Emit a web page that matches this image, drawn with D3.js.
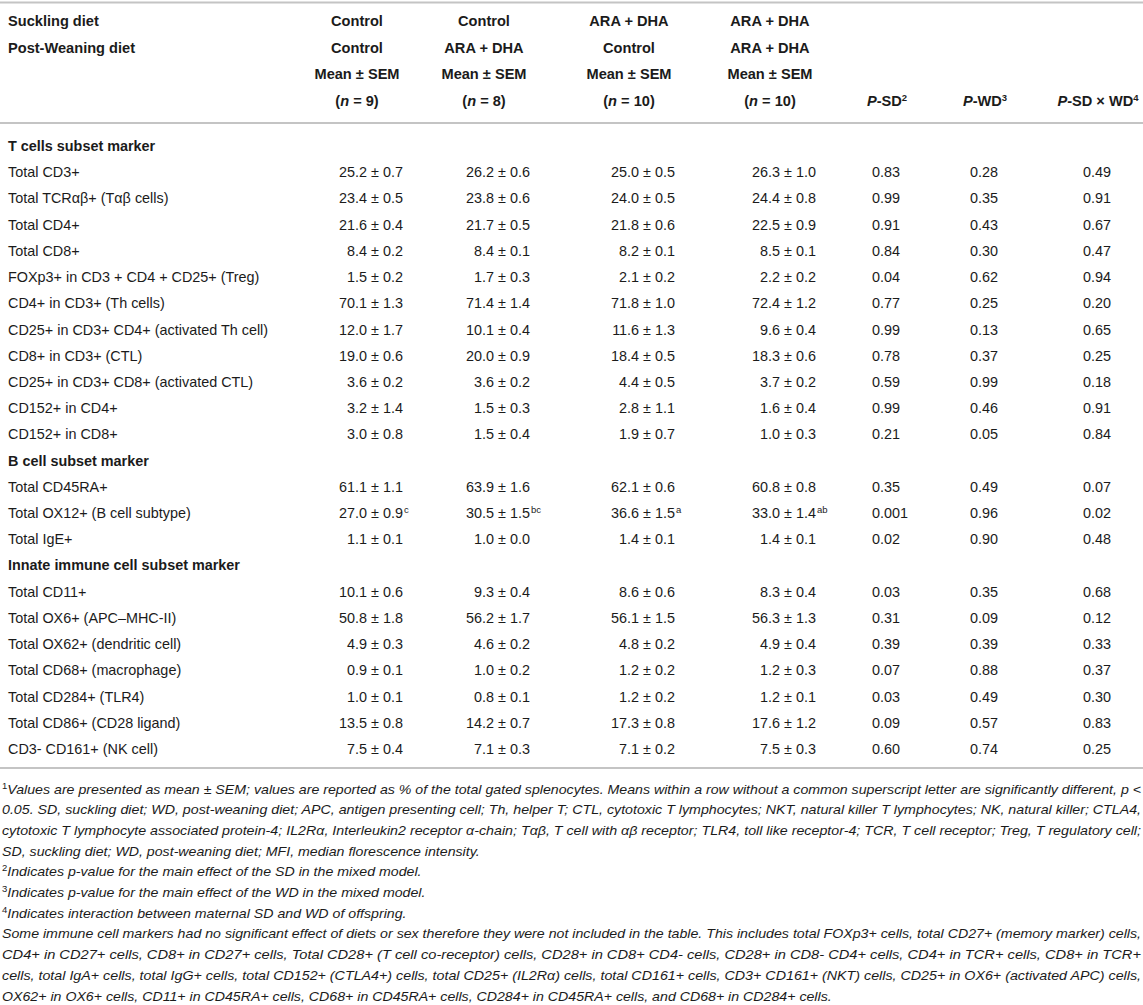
<!DOCTYPE html>
<html>
<head>
<meta charset="utf-8" />
<title>Splenocyte phenotypes by diet</title>
<script src="https://d3js.org/d3.v7.min.js"></script>
<style>
  body { margin: 0; background: #fff; }
  svg text { font-family: "Liberation Sans", Arial, sans-serif; fill: #1b1b1b; }
</style>
</head>
<body>
<svg id="canvas" width="1143" height="1005"></svg>
<script>
// ---- data ----
var sucklingDiet = ["Control", "Control", "ARA + DHA", "ARA + DHA"];
var weaningDiet = ["Control", "ARA + DHA", "Control", "ARA + DHA"];
var groupN = [9, 8, 10, 10];

var sections = ["T cells subset marker", "B cell subset marker", "Innate immune cell subset marker"];
var markers = [
  "Total CD3+", "Total TCRαβ+ (Tαβ cells)", "Total CD4+", "Total CD8+",
  "FOXp3+ in CD3 + CD4 + CD25+ (Treg)", "CD4+ in CD3+ (Th cells)",
  "CD25+ in CD3+ CD4+ (activated Th cell)", "CD8+ in CD3+ (CTL)",
  "CD25+ in CD3+ CD8+ (activated CTL)", "CD152+ in CD4+", "CD152+ in CD8+",
  "Total CD45RA+", "Total OX12+ (B cell subtype)", "Total IgE+",
  "Total CD11+", "Total OX6+ (APC–MHC-II)", "Total OX62+ (dendritic cell)",
  "Total CD68+ (macrophage)", "Total CD284+ (TLR4)", "Total CD86+ (CD28 ligand)",
  "CD3- CD161+ (NK cell)"
];
var markerSection = [0,0,0,0,0,0,0,0,0,0,0, 1,1,1, 2,2,2,2,2,2,2];

var meanG1 = [25.2, 23.4, 21.6, 8.4, 1.5, 70.1, 12.0, 19.0, 3.6, 3.2, 3.0, 61.1, 27.0, 1.1, 10.1, 50.8, 4.9, 0.9, 1.0, 13.5, 7.5];
var semG1  = [0.7, 0.5, 0.4, 0.2, 0.2, 1.3, 1.7, 0.6, 0.2, 1.4, 0.8, 1.1, 0.9, 0.1, 0.6, 1.8, 0.3, 0.1, 0.1, 0.8, 0.4];
var meanG2 = [26.2, 23.8, 21.7, 8.4, 1.7, 71.4, 10.1, 20.0, 3.6, 1.5, 1.5, 63.9, 30.5, 1.0, 9.3, 56.2, 4.6, 1.0, 0.8, 14.2, 7.1];
var semG2  = [0.6, 0.6, 0.5, 0.1, 0.3, 1.4, 0.4, 0.9, 0.2, 0.3, 0.4, 1.6, 1.5, 0.0, 0.4, 1.7, 0.2, 0.2, 0.1, 0.7, 0.3];
var meanG3 = [25.0, 24.0, 21.8, 8.2, 2.1, 71.8, 11.6, 18.4, 4.4, 2.8, 1.9, 62.1, 36.6, 1.4, 8.6, 56.1, 4.8, 1.2, 1.2, 17.3, 7.1];
var semG3  = [0.5, 0.5, 0.6, 0.1, 0.2, 1.0, 1.3, 0.5, 0.5, 1.1, 0.7, 0.6, 1.5, 0.1, 0.6, 1.5, 0.2, 0.2, 0.2, 0.8, 0.2];
var meanG4 = [26.3, 24.4, 22.5, 8.5, 2.2, 72.4, 9.6, 18.3, 3.7, 1.6, 1.0, 60.8, 33.0, 1.4, 8.3, 56.3, 4.9, 1.2, 1.2, 17.6, 7.5];
var semG4  = [1.0, 0.8, 0.9, 0.1, 0.2, 1.2, 0.4, 0.6, 0.2, 0.4, 0.3, 0.8, 1.4, 0.1, 0.4, 1.3, 0.4, 0.3, 0.1, 1.2, 0.3];
// superscript letters (only the OX12+ row has them)
var letters = [["","","",""],["","","",""],["","","",""],["","","",""],["","","",""],["","","",""],
  ["","","",""],["","","",""],["","","",""],["","","",""],["","","",""],["","","",""],
  ["c","bc","a","ab"],["","","",""],["","","",""],["","","",""],["","","",""],["","","",""],
  ["","","",""],["","","",""],["","","",""]];

var pSD  = [0.83, 0.99, 0.91, 0.84, 0.04, 0.77, 0.99, 0.78, 0.59, 0.99, 0.21, 0.35, 0.001, 0.02, 0.03, 0.31, 0.39, 0.07, 0.03, 0.09, 0.60];
var pWD  = [0.28, 0.35, 0.43, 0.30, 0.62, 0.25, 0.13, 0.37, 0.99, 0.46, 0.05, 0.49, 0.96, 0.90, 0.35, 0.09, 0.39, 0.88, 0.49, 0.57, 0.74];
var pInt = [0.49, 0.91, 0.67, 0.47, 0.94, 0.20, 0.65, 0.25, 0.18, 0.91, 0.84, 0.07, 0.02, 0.48, 0.68, 0.12, 0.33, 0.37, 0.30, 0.83, 0.25];

// footnote lines; justified = stretched to full width
var footLines = [
  {sup: "1", text: "Values are presented as mean ± SEM; values are reported as % of the total gated splenocytes. Means within a row without a common superscript letter are significantly different, p <", justify: true},
  {sup: "", text: "0.05. SD, suckling diet; WD, post-weaning diet; APC, antigen presenting cell; Th, helper T; CTL, cytotoxic T lymphocytes; NKT, natural killer T lymphocytes; NK, natural killer; CTLA4,", justify: true},
  {sup: "", text: "cytotoxic T lymphocyte associated protein-4; IL2Rα, Interleukin2 receptor α-chain; Tαβ, T cell with αβ receptor; TLR4, toll like receptor-4; TCR, T cell receptor; Treg, T regulatory cell;", justify: true},
  {sup: "", text: "SD, suckling diet; WD, post-weaning diet; MFI, median florescence intensity.", justify: false},
  {sup: "2", text: "Indicates p-value for the main effect of the SD in the mixed model.", justify: false},
  {sup: "3", text: "Indicates p-value for the main effect of the WD in the mixed model.", justify: false},
  {sup: "4", text: "Indicates interaction between maternal SD and WD of offspring.", justify: false},
  {sup: "", text: "Some immune cell markers had no significant effect of diets or sex therefore they were not included in the table. This includes total FOXp3+ cells, total CD27+ (memory marker) cells,", justify: true},
  {sup: "", text: "CD4+ in CD27+ cells, CD8+ in CD27+ cells, Total CD28+ (T cell co-receptor) cells, CD28+ in CD8+ CD4- cells, CD28+ in CD8- CD4+ cells, CD4+ in TCR+ cells, CD8+ in TCR+", justify: true},
  {sup: "", text: "cells, total IgA+ cells, total IgG+ cells, total CD152+ (CTLA4+) cells, total CD25+ (IL2Rα) cells, total CD161+ cells, CD3+ CD161+ (NKT) cells, CD25+ in OX6+ (activated APC) cells,", justify: true},
  {sup: "", text: "OX62+ in OX6+ cells, CD11+ in CD45RA+ cells, CD68+ in CD45RA+ cells, CD284+ in CD45RA+ cells, and CD68+ in CD284+ cells.", justify: false}
];

// ---- layout ----
var W = 1143;
var canvas = d3.select("#canvas");
var fmtMean = d3.format(".1f");
function fmtP(v) { return v < 0.01 ? d3.format(".3f")(v) : d3.format(".2f")(v); }

// build row list: section headings followed by their markers
var rows = [];
sections.forEach(function (s, si) {
  rows.push({type: "section", label: s});
  markers.forEach(function (m, i) {
    if (markerSection[i] === si) rows.push({type: "marker", label: m, i: i});
  });
});
rows.forEach(function (r, k) { r.key = k; });

var y = d3.scalePoint().domain(rows.map(function (r) { return r.key; })).range([146, 749]);
var headY = d3.scalePoint().domain([0, 1, 2, 3]).range([21, 101]);

var groupCols = ["g1", "g2", "g3", "g4"];
var pCols = ["sd", "wd", "int"];
var colCenter = d3.scaleOrdinal().domain(groupCols.concat(pCols))
  .range([357, 484, 629, 770, 887, 985, 1098]);
var halfMean = 46, halfP = 15;

// rules
var rules = [2.5, 123, 768];
canvas.selectAll("line.rule").data(rules).enter().append("line")
  .attr("class", "rule")
  .attr("x1", 0).attr("x2", W)
  .attr("y1", function (d) { return d; }).attr("y2", function (d) { return d; })
  .attr("stroke", "#c4c4c4").attr("stroke-width", 2);

// header
var head = canvas.append("g").style("font-weight", "bold").style("font-size", "14.6px");
head.append("text").attr("x", 8).attr("y", headY(0) + 5).text("Suckling diet");
head.append("text").attr("x", 8).attr("y", headY(1) + 5).text("Post-Weaning diet");

groupCols.forEach(function (c, gi) {
  var cx = colCenter(c);
  head.append("text").attr("x", cx).attr("y", headY(0) + 5).attr("text-anchor", "middle").text(sucklingDiet[gi]);
  head.append("text").attr("x", cx).attr("y", headY(1) + 5).attr("text-anchor", "middle").text(weaningDiet[gi]);
  head.append("text").attr("x", cx).attr("y", headY(2) + 5).attr("text-anchor", "middle").text("Mean ± SEM");
  var t = head.append("text").attr("x", cx).attr("y", headY(3) + 5).attr("text-anchor", "middle");
  t.append("tspan").text("(");
  t.append("tspan").style("font-style", "italic").text("n");
  t.append("tspan").text(" = " + groupN[gi] + ")");
});

var pHeads = [["-SD", "2"], ["-WD", "3"], ["-SD × WD", "4"]];
pCols.forEach(function (c, pi) {
  var t = head.append("text").attr("x", colCenter(c)).attr("y", headY(3) + 5).attr("text-anchor", "middle");
  t.append("tspan").style("font-style", "italic").text("P");
  t.append("tspan").text(pHeads[pi][0]);
  t.append("tspan").attr("dy", -5).style("font-size", "9.5px").text(pHeads[pi][1]);
});

// body rows
var body = canvas.append("g").style("font-size", "14.4px");
var rowG = body.selectAll("g.row").data(rows).enter().append("g")
  .attr("class", "row")
  .attr("transform", function (r) { return "translate(0," + (y(r.key) + 5) + ")"; });

rowG.append("text")
  .attr("x", 8)
  .style("font-weight", function (r) { return r.type === "section" ? "bold" : "normal"; })
  .text(function (r) { return r.label; });

var means = [meanG1, meanG2, meanG3, meanG4];
var sems = [semG1, semG2, semG3, semG4];
var markerRows = rowG.filter(function (r) { return r.type === "marker"; });

groupCols.forEach(function (c, gi) {
  markerRows.append("text")
    .attr("x", colCenter(c) + halfMean)
    .attr("text-anchor", "end")
    .text(function (r) { return fmtMean(means[gi][r.i]) + " ± " + fmtMean(sems[gi][r.i]); });
  markerRows.filter(function (r) { return letters[r.i][gi] !== ""; })
    .append("text")
    .attr("x", colCenter(c) + halfMean + 1)
    .attr("y", -5)
    .style("font-size", "9.5px")
    .text(function (r) { return letters[r.i][gi]; });
});

var pVals = [pSD, pWD, pInt];
pCols.forEach(function (c, pi) {
  markerRows.append("text")
    .attr("x", colCenter(c) - halfP)
    .text(function (r) { return fmtP(pVals[pi][r.i]); });
});

// footnotes
var footY = d3.scalePoint().domain(d3.range(footLines.length)).range([789, 996]);
var foot = canvas.append("g").style("font-size", "13.4px").style("font-style", "italic");
var fl = foot.selectAll("text").data(footLines).enter().append("text")
  .attr("x", 2)
  .attr("y", function (d, i) { return footY(i) + 4.5; });
fl.filter(function (d) { return d.sup !== ""; }).append("tspan")
  .attr("dy", -5).style("font-size", "9px").style("font-style", "normal")
  .text(function (d) { return d.sup; });
fl.append("tspan")
  .attr("dy", function (d) { return d.sup !== "" ? 5 : 0; })
  .text(function (d) { return d.text; });

// squeeze lines the way the condensed original font sits; justified lines fill the width
var natural = [];
fl.each(function (d, i) { natural[i] = this.getComputedTextLength(); });
var ratios = footLines.map(function (d, i) { return d.justify ? (W - 4) / natural[i] : null; })
  .filter(function (v) { return v !== null; });
var squeeze = d3.min(ratios);
fl.attr("textLength", function (d, i) { return d.justify ? W - 4 : natural[i] * squeeze; })
  .attr("lengthAdjust", "spacingAndGlyphs");
</script>
</body>
</html>
